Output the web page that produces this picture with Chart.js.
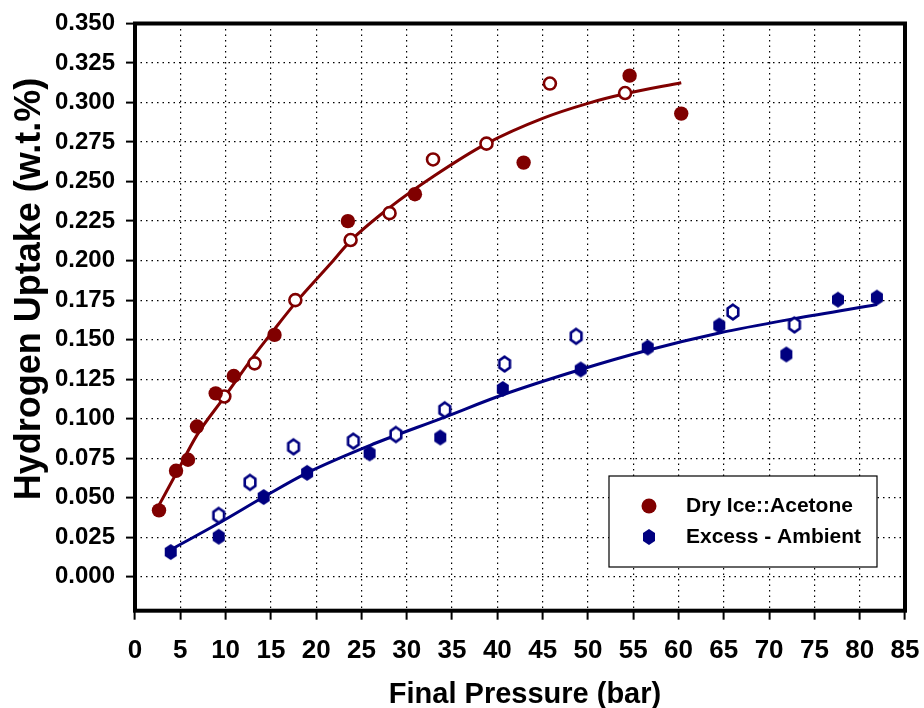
<!DOCTYPE html>
<html>
<head>
<meta charset="utf-8">
<script src="https://cdn.jsdelivr.net/npm/chart.js@4.4.1/dist/chart.umd.min.js"></script>
<style>
  body { margin: 0; background: #fff; }
  #wrap { width: 924px; height: 708px; }
</style>
</head>
<body>
<div id="wrap"><canvas id="chart" width="924" height="708"></canvas></div>
<script>
// ticks
const xTicks = [0, 5, 10, 15, 20, 25, 30, 35, 40, 45, 50, 55, 60, 65, 70, 75, 80, 85];
const yTicks = [0, 0.025, 0.05, 0.075, 0.1, 0.125, 0.15, 0.175, 0.2, 0.225, 0.25, 0.275, 0.3, 0.325, 0.35];

// Dry Ice::Acetone - filled circles
const dryPress = [2.65, 4.53, 5.85, 6.84, 8.91, 10.9, 15.4, 23.5, 30.9, 42.9, 54.6, 60.3];
const dryUptake = [0.042, 0.067, 0.074, 0.095, 0.116, 0.127, 0.153, 0.225, 0.242, 0.262, 0.317, 0.293];
// Dry Ice::Acetone - open circles
const dryPressOpen = [9.86, 13.2, 17.7, 23.8, 28.1, 32.9, 38.8, 45.8, 54.1];
const dryUptakeOpen = [0.114, 0.135, 0.175, 0.213, 0.230, 0.264, 0.274, 0.312, 0.306];

// Excess - Ambient - filled hexagons
const ambPress = [3.94, 9.24, 14.2, 19.0, 25.9, 33.7, 40.6, 49.2, 56.6, 64.5, 71.9, 77.6, 81.9];
const ambUptake = [0.0156, 0.0253, 0.0504, 0.0657, 0.078, 0.0881, 0.1188, 0.1311, 0.145, 0.1589, 0.1406, 0.1753, 0.1766];
// Excess - Ambient - open hexagons
const ambPressOpen = [9.24, 12.7, 17.5, 24.1, 28.8, 34.2, 40.8, 48.7, 66.0, 72.8];
const ambUptakeOpen = [0.0388, 0.0597, 0.0822, 0.0858, 0.090, 0.1056, 0.1346, 0.1521, 0.1675, 0.1593];

// trend lines
const dryFitPress = [2.65, 4.53, 6.84, 9.86, 13.06, 15.42, 17.74, 21.5, 23.8, 28.1, 33.0, 38.8, 45.0, 50.0, 54.1, 60.3];
const dryFitUptake = [0.0453, 0.0651, 0.0896, 0.1136, 0.1393, 0.1568, 0.1734, 0.1975, 0.2125, 0.2335, 0.2535, 0.274, 0.29, 0.2995, 0.3055, 0.3125];
const ambFitPress = [4.23, 9.24, 14.2, 19.0, 25.9, 34.2, 40.3, 49.2, 56.6, 64.5, 72.8, 81.9];
const ambFitUptake = [0.018, 0.0338, 0.0504, 0.0657, 0.083, 0.101, 0.1145, 0.1311, 0.1433, 0.1542, 0.1633, 0.1722];

const RED = '#800000';
const BLUE = '#000080';

const zip = (xs, ys) => xs.map((x, i) => ({ x: x, y: ys[i] }));

function hexagon(fill, stroke, lw, hw, hh) {
    const c = document.createElement('canvas');
    c.width = 16;
    c.height = 20;
    const g = c.getContext('2d');
    const cx = 8, cy = 10;
    g.beginPath();
    g.moveTo(cx, cy - hh);
    g.lineTo(cx + hw, cy - hh / 2);
    g.lineTo(cx + hw, cy + hh / 2);
    g.lineTo(cx, cy + hh);
    g.lineTo(cx - hw, cy + hh / 2);
    g.lineTo(cx - hw, cy - hh / 2);
    g.closePath();
    g.fillStyle = fill;
    g.fill();
    if (stroke) {
        g.lineWidth = lw;
        g.strokeStyle = stroke;
        g.stroke();
    }
    return c;
}

const hexFilled = hexagon(BLUE, null, 0, 6, 8);
const hexOpen = hexagon('#ffffff', BLUE, 2.6, 5.3, 7.3);

const FONT = "'Liberation Sans', Arial, sans-serif";
Chart.defaults.font.family = FONT;
Chart.defaults.font.weight = 'bold';
Chart.defaults.color = '#000';

const decor = {
    id: 'decor',
    afterDatasetsDraw(chart) {
        const a = chart.chartArea;
        const ctx = chart.ctx;
        ctx.save();
        ctx.lineWidth = 4;
        ctx.strokeStyle = '#000';
        ctx.strokeRect(a.left, a.top, a.right - a.left, a.bottom - a.top);
        ctx.restore();
    },
    afterDraw(chart) {
        const ctx = chart.ctx;
        ctx.save();
        ctx.fillStyle = '#000';
        ctx.textAlign = 'center';
        ctx.textBaseline = 'middle';

        // axis titles
        ctx.font = 'bold 29px ' + FONT;
        ctx.fillText('Final Pressure (bar)', 525, 695);
        ctx.save();
        ctx.translate(30, 289);
        ctx.rotate(-Math.PI / 2);
        ctx.font = 'bold 36px ' + FONT;
        ctx.fillText('Hydrogen Uptake (w.t.%)', 0, 0);
        ctx.restore();

        // legend box
        ctx.fillStyle = '#fff';
        ctx.fillRect(609, 476, 268, 91);
        ctx.lineWidth = 1.2;
        ctx.strokeStyle = '#000';
        ctx.strokeRect(609, 476, 268, 91);

        const items = chart.data.datasets.filter(d => d.inLegend);
        ctx.font = 'bold 21px ' + FONT;
        ctx.textAlign = 'left';
        items.forEach((d, i) => {
            const y = 506 + i * 31;
            if (d.pointStyle === 'circle') {
                ctx.beginPath();
                ctx.arc(649, y, 7.5, 0, Math.PI * 2);
                ctx.fillStyle = d.backgroundColor;
                ctx.fill();
            } else {
                ctx.drawImage(d.pointStyle, 649 - d.pointStyle.width / 2, y - d.pointStyle.height / 2);
            }
            ctx.fillStyle = '#000';
            ctx.fillText(d.label, 686, y);
        });
        ctx.restore();
    }
};

new Chart(document.getElementById('chart'), {
    type: 'scatter',
    data: {
        datasets: [
            {
                label: 'Dry Ice::Acetone',
                inLegend: true,
                data: zip(dryPress, dryUptake),
                pointStyle: 'circle',
                pointRadius: 7.2,
                backgroundColor: RED,
                borderColor: RED,
                borderWidth: 0,
                order: 1
            },
            {
                label: 'Excess - Ambient',
                inLegend: true,
                data: zip(ambPress, ambUptake),
                pointStyle: hexFilled,
                backgroundColor: BLUE,
                borderColor: BLUE,
                order: 1
            },
            {
                label: 'Dry Ice::Acetone (open)',
                data: zip(dryPressOpen, dryUptakeOpen),
                pointStyle: 'circle',
                pointRadius: 6,
                backgroundColor: '#fff',
                borderColor: RED,
                borderWidth: 2.6,
                order: 1
            },
            {
                label: 'Excess - Ambient (open)',
                data: zip(ambPressOpen, ambUptakeOpen),
                pointStyle: hexOpen,
                backgroundColor: '#fff',
                borderColor: BLUE,
                order: 1
            },
            {
                label: 'Dry Ice::Acetone fit',
                data: zip(dryFitPress, dryFitUptake),
                showLine: true,
                pointRadius: 0,
                borderColor: RED,
                borderWidth: 3,
                cubicInterpolationMode: 'monotone',
                order: 2
            },
            {
                label: 'Excess - Ambient fit',
                data: zip(ambFitPress, ambFitUptake),
                showLine: true,
                pointRadius: 0,
                borderColor: BLUE,
                borderWidth: 3,
                cubicInterpolationMode: 'monotone',
                order: 2
            }
        ]
    },
    options: {
        responsive: false,
        animation: false,
        devicePixelRatio: 1,
        layout: {
            padding: { left: 0, right: 19, top: 23.5, bottom: 0 }
        },
        plugins: {
            legend: { display: false },
            tooltip: { enabled: false }
        },
        scales: {
            x: {
                type: 'linear',
                min: 0,
                max: 85,
                afterBuildTicks: scale => {
                    scale.ticks = xTicks.map(v => ({ value: v }));
                },
                afterFit: scale => {
                    scale.height = 97.3;
                    scale.paddingLeft = 0;
                    scale.paddingRight = 0;
                },
                ticks: {
                    autoSkip: false,
                    maxRotation: 0,
                    padding: 16,
                    font: { size: 26, weight: 'bold' },
                    color: '#000'
                },
                grid: {
                    color: '#000',
                    lineWidth: 1.2,
                    tickLength: 9,
                    tickWidth: 2,
                    tickColor: '#000'
                },
                border: { display: false, dash: [1.5, 4] }
            },
            y: {
                type: 'linear',
                min: -0.0215,
                max: 0.35,
                afterBuildTicks: scale => {
                    scale.ticks = yTicks.map(v => ({ value: v }));
                },
                afterFit: scale => {
                    scale.width = 135;
                    scale.paddingTop = 0;
                    scale.paddingBottom = 0;
                },
                ticks: {
                    padding: 11,
                    font: { size: 24, weight: 'bold' },
                    color: '#000',
                    callback: v => v.toFixed(3)
                },
                grid: {
                    color: '#000',
                    lineWidth: 1.2,
                    tickLength: 9,
                    tickWidth: 2,
                    tickColor: '#000'
                },
                border: { display: false, dash: [1.5, 4] }
            }
        }
    },
    plugins: [decor]
});
</script>
</body>
</html>
